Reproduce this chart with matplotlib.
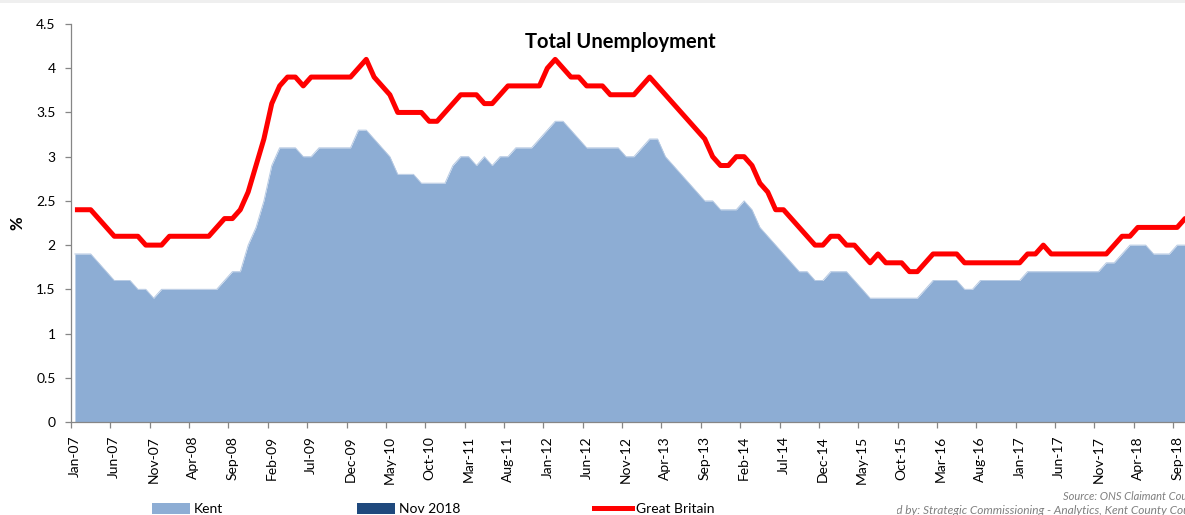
import matplotlib
matplotlib.use("Agg")
import matplotlib.pyplot as plt
from matplotlib.patches import Rectangle, Patch
from matplotlib.lines import Line2D
import numpy as np

# ---------------- data ----------------
month_names = ["Jan", "Feb", "Mar", "Apr", "May", "Jun",
               "Jul", "Aug", "Sep", "Oct", "Nov", "Dec"]
months = [f"{month_names[m]}-{str(y)[2:]}" for y in range(2007, 2019) for m in range(12)][:143]

kent = [1.9, 1.9, 1.9, 1.8, 1.7, 1.6, 1.6, 1.6, 1.5, 1.5, 1.4, 1.5,          # 2007
        1.5, 1.5, 1.5, 1.5, 1.5, 1.5, 1.5, 1.6, 1.7, 1.7, 2.0, 2.2,          # 2008
        2.5, 2.9, 3.1, 3.1, 3.1, 3.0, 3.0, 3.1, 3.1, 3.1, 3.1, 3.1,          # 2009
        3.3, 3.3, 3.2, 3.1, 3.0, 2.8, 2.8, 2.8, 2.7, 2.7, 2.7, 2.7,          # 2010
        2.9, 3.0, 3.0, 2.9, 3.0, 2.9, 3.0, 3.0, 3.1, 3.1, 3.1, 3.2,          # 2011
        3.3, 3.4, 3.4, 3.3, 3.2, 3.1, 3.1, 3.1, 3.1, 3.1, 3.0, 3.0,          # 2012
        3.1, 3.2, 3.2, 3.0, 2.9, 2.8, 2.7, 2.6, 2.5, 2.5, 2.4, 2.4,          # 2013
        2.4, 2.5, 2.4, 2.2, 2.1, 2.0, 1.9, 1.8, 1.7, 1.7, 1.6, 1.6,          # 2014
        1.7, 1.7, 1.7, 1.6, 1.5, 1.4, 1.4, 1.4, 1.4, 1.4, 1.4, 1.4,          # 2015
        1.5, 1.6, 1.6, 1.6, 1.6, 1.5, 1.5, 1.6, 1.6, 1.6, 1.6, 1.6,          # 2016
        1.6, 1.7, 1.7, 1.7, 1.7, 1.7, 1.7, 1.7, 1.7, 1.7, 1.7, 1.8,          # 2017
        1.8, 1.9, 2.0, 2.0, 2.0, 1.9, 1.9, 1.9, 2.0, 2.0, 2.0]               # 2018

great_britain = [2.4, 2.4, 2.4, 2.3, 2.2, 2.1, 2.1, 2.1, 2.1, 2.0, 2.0, 2.0,   # 2007
                 2.1, 2.1, 2.1, 2.1, 2.1, 2.1, 2.2, 2.3, 2.3, 2.4, 2.6, 2.9,   # 2008
                 3.2, 3.6, 3.8, 3.9, 3.9, 3.8, 3.9, 3.9, 3.9, 3.9, 3.9, 3.9,   # 2009
                 4.0, 4.1, 3.9, 3.8, 3.7, 3.5, 3.5, 3.5, 3.5, 3.4, 3.4, 3.5,   # 2010
                 3.6, 3.7, 3.7, 3.7, 3.6, 3.6, 3.7, 3.8, 3.8, 3.8, 3.8, 3.8,   # 2011
                 4.0, 4.1, 4.0, 3.9, 3.9, 3.8, 3.8, 3.8, 3.7, 3.7, 3.7, 3.7,   # 2012
                 3.8, 3.9, 3.8, 3.7, 3.6, 3.5, 3.4, 3.3, 3.2, 3.0, 2.9, 2.9,   # 2013
                 3.0, 3.0, 2.9, 2.7, 2.6, 2.4, 2.4, 2.3, 2.2, 2.1, 2.0, 2.0,   # 2014
                 2.1, 2.1, 2.0, 2.0, 1.9, 1.8, 1.9, 1.8, 1.8, 1.8, 1.7, 1.7,   # 2015
                 1.8, 1.9, 1.9, 1.9, 1.9, 1.8, 1.8, 1.8, 1.8, 1.8, 1.8, 1.8,   # 2016
                 1.8, 1.9, 1.9, 2.0, 1.9, 1.9, 1.9, 1.9, 1.9, 1.9, 1.9, 1.9,   # 2017
                 2.0, 2.1, 2.1, 2.2, 2.2, 2.2, 2.2, 2.2, 2.2, 2.3, 2.3]        # 2018

nov2018_label = "Nov 2018"
nov2018_value = [2.0]          # Kent, latest month (Nov-18)

title = "Total Unemployment"
y_ticks = [0, 0.5, 1, 1.5, 2, 2.5, 3, 3.5, 4, 4.5]
label_step = 5

# ---------------- style ----------------
FONT = ["Lato", "DejaVu Sans"]
plt.rcParams["font.family"] = FONT
KENT_C = "#8DADD4"
NOV_C = "#1F497D"
GB_C = "#FF0000"
AXIS_C = "#868686"

W, H = 1185, 515
fig = plt.figure(figsize=(W / 100, H / 100), dpi=100)
fig.patch.set_facecolor("white")
# thin grey strip at the very top
fig.add_artist(Rectangle((0, (H - 3) / H), 1, 3 / H, transform=fig.transFigure,
                         facecolor="#EFEFEF", edgecolor="none"))

n = len(months)
x = np.arange(n)
px_per_month = 7.873
left_px, bottom_px, top_px = 71, 422, 24
ax_w = n * px_per_month
ax = fig.add_axes([left_px / W, (H - bottom_px) / H,
                   ax_w / W, (bottom_px - top_px) / H])

ax.fill_between(x[:len(kent)], 0, kent, color=KENT_C, linewidth=0, zorder=2)
ax.plot(x[:len(kent)], kent, color="#B7CAE3", lw=0.7, zorder=2.5)
ax.bar([n - 1], nov2018_value, width=0.9, color=NOV_C, zorder=2.6)
ax.plot(x[:len(great_britain)], great_britain, color=GB_C, lw=3.6,
        solid_joinstyle="round", solid_capstyle="butt", zorder=3)

ax.set_xlim(-0.5, n - 0.5)
ax.set_ylim(0, 4.5)

# spines
for s in ("top", "right"):
    ax.spines[s].set_visible(False)
for s in ("left", "bottom"):
    ax.spines[s].set_color(AXIS_C)
    ax.spines[s].set_linewidth(0.9)

# y ticks
ax.set_yticks(y_ticks)
ax.set_yticklabels([f"{v:g}" for v in y_ticks])
ax.tick_params(axis="y", length=4, width=0.9, color=AXIS_C, pad=7,
               labelsize=10, labelcolor="black", direction="out")

# x ticks: marks at category boundaries, labels at category centres
label_idx = list(range(0, n, label_step))
ax.set_xticks([i - 0.5 for i in label_idx])
ax.set_xticklabels([])
ax.tick_params(axis="x", which="major", length=4.5, width=0.9, color=AXIS_C,
               direction="out")
ax.set_xticks(label_idx, minor=True)
ax.set_xticklabels([months[i] for i in label_idx], minor=True, rotation=90,
                   fontsize=10)
ax.tick_params(axis="x", which="minor", length=0, pad=10)

ax.set_ylabel("%", fontsize=12, fontweight="bold")
ax.yaxis.set_label_coords(-46 / ax_w, 0.5)

fig.text(620 / W, (H - 42) / H, title, ha="center", va="center",
         fontsize=14.5, fontweight="bold")

# legend
handles = [Patch(facecolor=KENT_C, edgecolor="none"),
           Patch(facecolor=NOV_C, edgecolor="none"),
           Line2D([0], [0], color=GB_C, lw=3.6)]
labels = ["Kent", nov2018_label, "Great Britain"]
fig.legend(handles, labels, loc="center", bbox_to_anchor=(433 / W, (H - 509) / H),
           ncol=3, frameon=False, fontsize=10, handlelength=2.75,
           handleheight=0.85, handletextpad=0.3, columnspacing=9.6,
           borderaxespad=0, borderpad=0)

# source notes (partly cut off, as in the original)
fig.text(1063 / W, (H - 496) / H, "Source: ONS Claimant Count", ha="left",
         va="center", fontsize=8, style="italic", color="#7F7F7F")
prep = fig.text(858 / W, (H - 510) / H,
                "Prepared by: Strategic Commissioning - Analytics, Kent County Council",
                ha="left", va="center", fontsize=8.6, style="italic", color="#7F7F7F")
clip = Rectangle((897 / W, 0), 1, 1, transform=fig.transFigure)
prep.set_clip_path(clip)

fig.savefig("out.png", dpi=100)
